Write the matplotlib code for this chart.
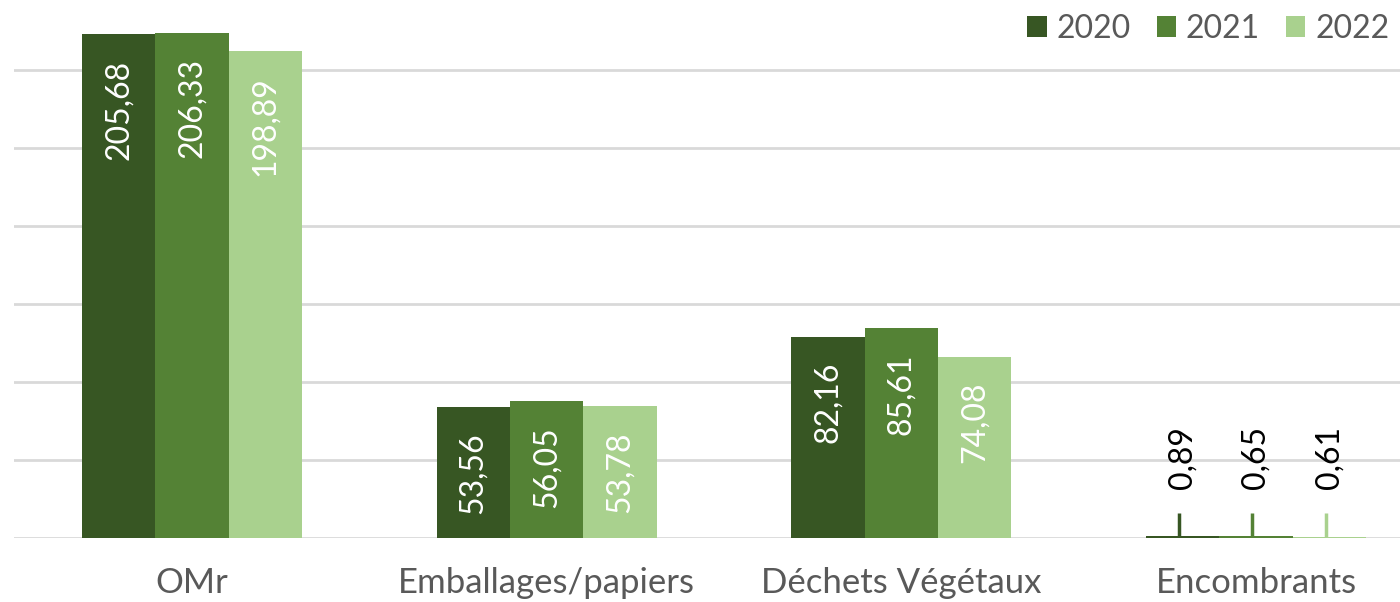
import numpy as np
import matplotlib
matplotlib.use('Agg')
import matplotlib.pyplot as plt
from matplotlib.patches import Patch

# Data
categories = ['OMr', 'Emballages/papiers', 'Déchets Végétaux', 'Encombrants']
years = ['2020', '2021', '2022']
values_2020 = [205.68, 53.56, 82.16, 0.89]
values_2021 = [206.33, 56.05, 85.61, 0.65]
values_2022 = [198.89, 53.78, 74.08, 0.61]
colors = ['#375623', '#548235', '#a9d18e']

plt.rcParams['font.family'] = ['Lato', 'DejaVu Sans']


def fmt(v):
    return '{:.2f}'.format(v).replace('.', ',')


def plot_chart():
    fig = plt.figure(figsize=(14, 6.02), dpi=100)
    ax = fig.add_axes([14.5 / 1400, 64 / 602, 1 - 14.5 / 1400, 1 - 64 / 602])

    x = np.arange(len(categories))
    width = 0.2067
    series = [values_2020, values_2021, values_2022]

    for i, vals in enumerate(series):
        xs = x + (i - 1) * width
        ax.bar(xs, vals, width=width, color=colors[i], linewidth=0, zorder=3)
        for xi, v in zip(xs, vals):
            if v > 20:
                ax.annotate(fmt(v), xy=(xi, v), xytext=(0, -18),
                            textcoords='offset points', rotation=90,
                            ha='center', va='top', color='white',
                            fontsize=23, zorder=4)
            else:
                # small value: label above with a leader line
                ax.vlines(xi - 0.01, v, v + 9.5, color=colors[i], lw=2.5, zorder=4)
                ax.annotate(fmt(v), xy=(xi, v), xytext=(0, 34),
                            textcoords='offset points', rotation=90,
                            ha='center', va='bottom', color='black',
                            fontsize=23, zorder=4)

    ax.set_ylim(0, 538 / 2.448)
    ax.set_xlim(-0.5, 3.406)
    ax.set_yticks(np.arange(0, 7) * 31.86)
    ax.yaxis.grid(True, color='#d9d9d9', linewidth=2, zorder=0)
    ax.tick_params(axis='y', left=False, labelleft=False)
    ax.set_xticks(x)
    ax.set_xticklabels(categories, fontsize=25, color='#595959')
    ax.tick_params(axis='x', length=0, pad=21)
    for s in ax.spines.values():
        s.set_visible(False)

    handles = [Patch(facecolor=c, edgecolor='none') for c in colors]
    fig.legend(handles, years, loc='upper left', bbox_to_anchor=(1021 / 1400, 0.988),
               ncol=3, frameon=False, fontsize=23, labelcolor='#595959',
               handlelength=0.62, handleheight=0.62, handletextpad=0.3,
               columnspacing=0.8, borderaxespad=0, borderpad=0.2)

    fig.savefig('out.png', dpi=100)


if __name__ == '__main__':
    plot_chart()
